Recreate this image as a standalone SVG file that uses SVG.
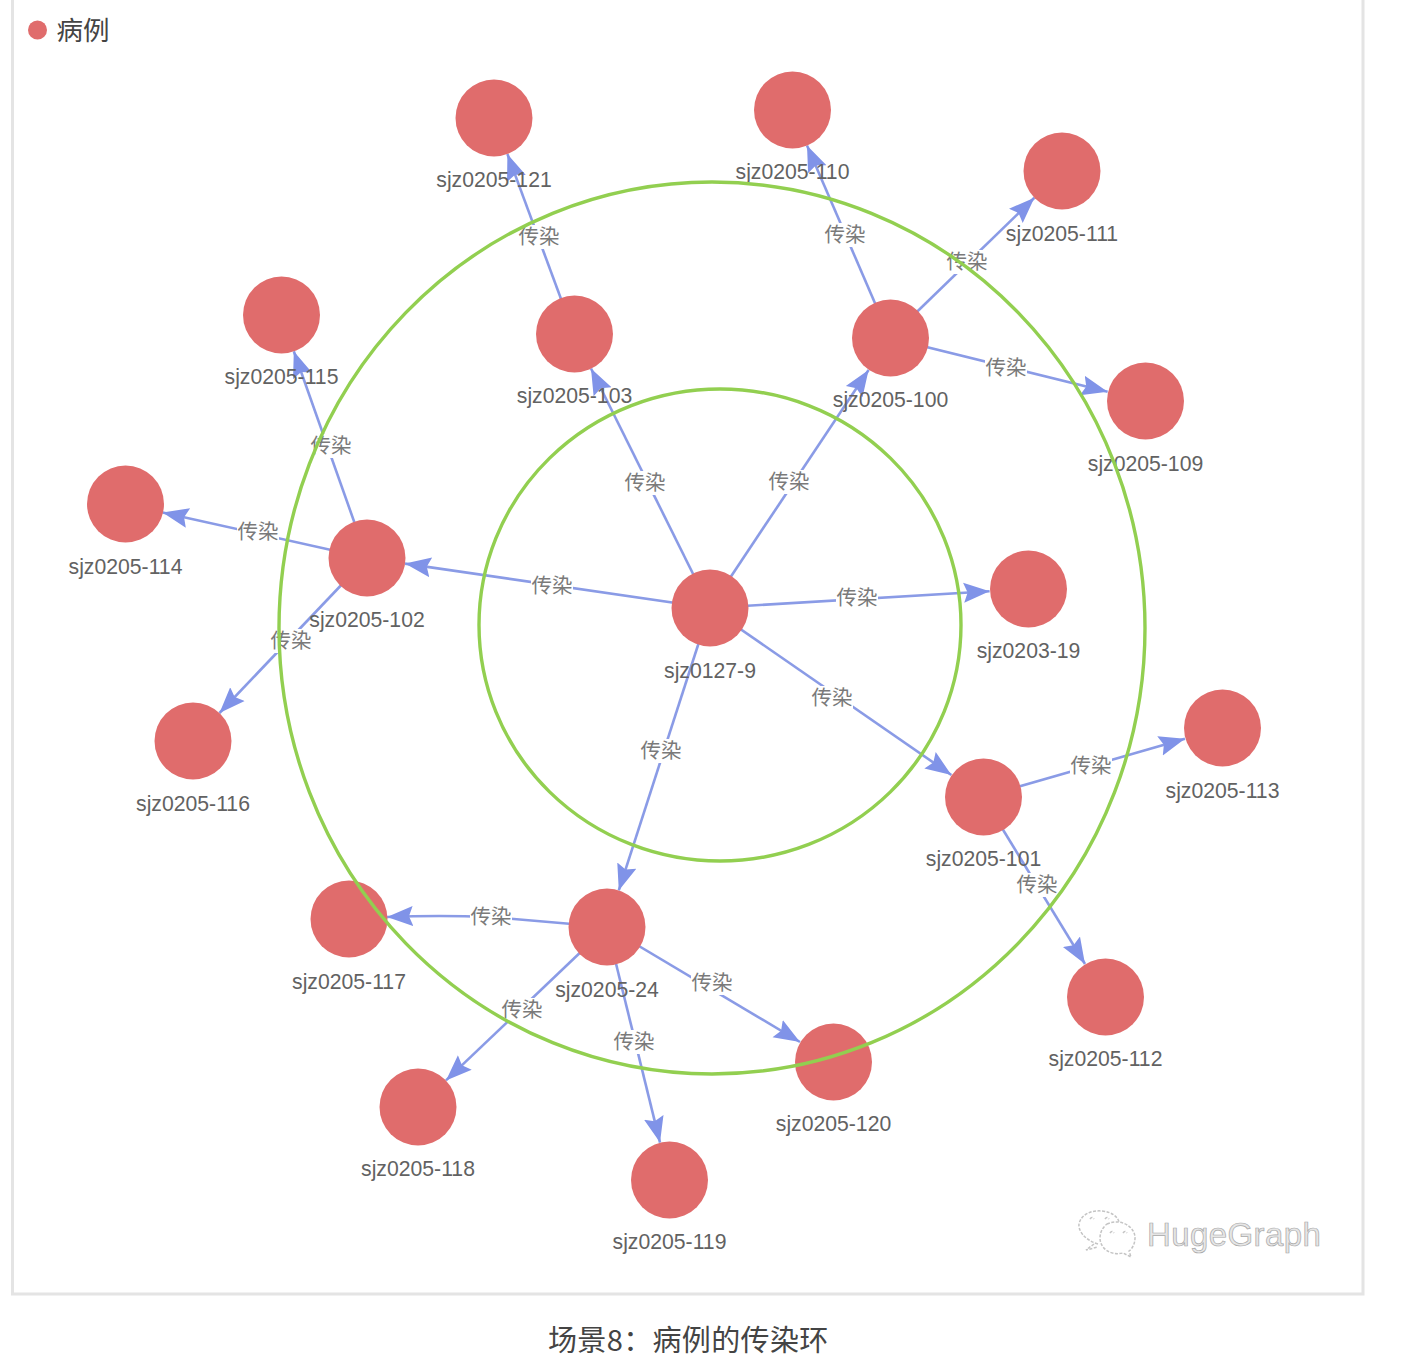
<svg xmlns="http://www.w3.org/2000/svg" width="1422" height="1364" viewBox="0 0 1422 1364">
<style>
.n{fill:#e06c6c}
.nl{font:21.2px "Liberation Sans",Arial,sans-serif;fill:#626262;text-anchor:middle}
.e{fill:none;stroke:#8a9be6;stroke-width:2.6;marker-end:url(#a)}
.el{font:20.500px "Noto Sans CJK SC",sans-serif;fill:#7a7a7a;text-anchor:middle}
.elb{fill:#fff}
.r{fill:none;stroke:#92cf50;stroke-width:3.400}
.wm{fill:none;stroke:#c4c4c4;stroke-width:1.500;stroke-dasharray:3 1.5}
</style>
<defs>
<marker id="a" markerUnits="userSpaceOnUse" markerWidth="30" markerHeight="24" refX="26" refY="11" orient="auto">
<path d="M0 1 L26 11 L0 21 L4 11 Z" fill="#8093e8"/>
</marker>
</defs>
<rect width="1422" height="1364" fill="#fff"/>
<path d="M12.500 -5 V1294 H1363 V-5" fill="none" stroke="#e4e4e4" stroke-width="3"/>
<g id="legend">
<circle class="n" cx="37.500" cy="30" r="9.500"/>
<text x="56.500" y="40" style="font:26.500px 'Noto Sans CJK SC',sans-serif;fill:#444">病例</text>
</g>
<g id="connectors">
<path class="e" d="M710 608L989.600 591.300"/>
<path class="e" d="M710 608L868.600 370"/>
<path class="e" d="M710 608L591 368.500"/>
<path class="e" d="M710 608L405 563.600"/>
<path class="e" d="M710 608L951.400 775"/>
<path class="e" d="M710 608L618.800 890.400"/>
<path class="e" d="M574 334L507.400 154"/>
<path class="e" d="M890 338L807 145.400"/>
<path class="e" d="M890 338L1034.400 197.800"/>
<path class="e" d="M890 338L1107.600 391.800"/>
<path class="e" d="M367 558L293.800 351.300"/>
<path class="e" d="M367 558L162.600 512.400"/>
<path class="e" d="M367 558L219.500 713"/>
<path class="e" d="M983 797L1185 738.700"/>
<path class="e" d="M983 797L1085 964"/>
<path class="e" d="M607 927L490 917Q440 915 387 917"/>
<path class="e" d="M607 927L446 1080.400"/>
<path class="e" d="M607 927L660 1142.600"/>
<path class="e" d="M607 927L800 1042"/>
<g id="edge-labels">
<rect class="elb" x="531" y="574" width="42" height="24"/><text class="el" x="552" y="593">传染</text>
<rect class="elb" x="836" y="586" width="42" height="24"/><text class="el" x="857" y="605">传染</text>
<rect class="elb" x="624" y="471" width="42" height="24"/><text class="el" x="645" y="490">传染</text>
<rect class="elb" x="768" y="470" width="42" height="24"/><text class="el" x="789" y="489">传染</text>
<rect class="elb" x="811" y="686" width="42" height="24"/><text class="el" x="832" y="705">传染</text>
<rect class="elb" x="640" y="739" width="42" height="24"/><text class="el" x="661" y="758">传染</text>
<rect class="elb" x="518" y="225" width="42" height="24"/><text class="el" x="539" y="244">传染</text>
<rect class="elb" x="824" y="223" width="42" height="24"/><text class="el" x="845" y="242">传染</text>
<rect class="elb" x="946" y="250" width="42" height="24"/><text class="el" x="967" y="269">传染</text>
<rect class="elb" x="985" y="356" width="42" height="24"/><text class="el" x="1006" y="375">传染</text>
<rect class="elb" x="310" y="434" width="42" height="24"/><text class="el" x="331" y="453">传染</text>
<rect class="elb" x="237" y="520" width="42" height="24"/><text class="el" x="258" y="539">传染</text>
<rect class="elb" x="270" y="629" width="42" height="24"/><text class="el" x="291" y="648">传染</text>
<rect class="elb" x="1070" y="754" width="42" height="24"/><text class="el" x="1091" y="773">传染</text>
<rect class="elb" x="1016" y="873" width="42" height="24"/><text class="el" x="1037" y="892">传染</text>
<rect class="elb" x="470" y="905" width="42" height="24"/><text class="el" x="491" y="924">传染</text>
<rect class="elb" x="501" y="998" width="42" height="24"/><text class="el" x="522" y="1017">传染</text>
<rect class="elb" x="613" y="1030" width="42" height="24"/><text class="el" x="634" y="1049">传染</text>
<rect class="elb" x="691" y="971" width="42" height="24"/><text class="el" x="712" y="990">传染</text>
</g>
</g>
<g id="n-sjz0127-9"><circle class="n" cx="710" cy="608" r="38.500"/><text class="nl" x="710" y="678">sjz0127-9</text></g>
<g id="n-sjz0203-19"><circle class="n" cx="1028.500" cy="589" r="38.500"/><text class="nl" x="1028.500" y="658">sjz0203-19</text></g>
<g id="n-sjz0205-100"><circle class="n" cx="890.500" cy="338" r="38.500"/><text class="nl" x="890.500" y="407">sjz0205-100</text></g>
<g id="n-sjz0205-103"><circle class="n" cx="574.500" cy="334" r="38.500"/><text class="nl" x="574.500" y="403">sjz0205-103</text></g>
<g id="n-sjz0205-102"><circle class="n" cx="367" cy="558" r="38.500"/><text class="nl" x="367" y="627">sjz0205-102</text></g>
<g id="n-sjz0205-101"><circle class="n" cx="983.500" cy="797" r="38.500"/><text class="nl" x="983.500" y="866">sjz0205-101</text></g>
<g id="n-sjz0205-24"><circle class="n" cx="607" cy="927" r="38.500"/><text class="nl" x="607" y="997">sjz0205-24</text></g>
<g id="n-sjz0205-121"><circle class="n" cx="494" cy="118" r="38.500"/><text class="nl" x="494" y="187">sjz0205-121</text></g>
<g id="n-sjz0205-110"><circle class="n" cx="792.500" cy="110" r="38.500"/><text class="nl" x="792.500" y="179">sjz0205-110</text></g>
<g id="n-sjz0205-111"><circle class="n" cx="1062" cy="171" r="38.500"/><text class="nl" x="1062" y="241">sjz0205-111</text></g>
<g id="n-sjz0205-109"><circle class="n" cx="1145.500" cy="401" r="38.500"/><text class="nl" x="1145.500" y="471">sjz0205-109</text></g>
<g id="n-sjz0205-115"><circle class="n" cx="281.500" cy="315" r="38.500"/><text class="nl" x="281.500" y="384">sjz0205-115</text></g>
<g id="n-sjz0205-114"><circle class="n" cx="125.500" cy="504" r="38.500"/><text class="nl" x="125.500" y="574">sjz0205-114</text></g>
<g id="n-sjz0205-116"><circle class="n" cx="193" cy="741" r="38.500"/><text class="nl" x="193" y="811">sjz0205-116</text></g>
<g id="n-sjz0205-113"><circle class="n" cx="1222.500" cy="728" r="38.500"/><text class="nl" x="1222.500" y="798">sjz0205-113</text></g>
<g id="n-sjz0205-112"><circle class="n" cx="1105.500" cy="997" r="38.500"/><text class="nl" x="1105.500" y="1066">sjz0205-112</text></g>
<g id="n-sjz0205-117"><circle class="n" cx="349" cy="919" r="38.500"/><text class="nl" x="349" y="989">sjz0205-117</text></g>
<g id="n-sjz0205-118"><circle class="n" cx="418" cy="1107" r="38.500"/><text class="nl" x="418" y="1176">sjz0205-118</text></g>
<g id="n-sjz0205-119"><circle class="n" cx="669.500" cy="1180" r="38.500"/><text class="nl" x="669.500" y="1249">sjz0205-119</text></g>
<g id="n-sjz0205-120"><circle class="n" cx="833.500" cy="1062" r="38.500"/><text class="nl" x="833.500" y="1131">sjz0205-120</text></g>
<g id="rings">
<ellipse class="r" cx="720" cy="625" rx="241" ry="236"/>
<ellipse class="r" cx="712" cy="628" rx="433" ry="446"/>
</g>
<g id="watermark">
<path class="wm" d="M1098 1244C1084 1240 1078 1230 1079 1224C1081 1214 1092 1210 1102 1211C1112 1212 1118 1217 1119 1222M1094 1244L1086 1250L1098 1247M1090 1219Q1092 1216 1094 1219M1105 1219Q1107 1216 1109 1219"/>
<path class="wm" d="M1107 1224C1120 1218 1135 1226 1135 1238C1135 1244 1132 1249 1129 1251L1131 1257L1123 1253C1110 1256 1100 1248 1100 1238C1100 1232 1103 1227 1107 1224ZM1110 1233Q1112 1230 1114 1233M1123 1233Q1125 1230 1127 1233"/>
<text x="1147" y="1246" style="font:33px 'Liberation Sans',sans-serif;letter-spacing:.4px;fill:#e6e6e6;stroke:#a8a8a8;stroke-width:.7">HugeGraph</text>
</g>
<text id="caption" x="548" y="1351" style="font:29px 'Noto Sans CJK SC',sans-serif;fill:#444;letter-spacing:.35px">场景8：病例的传染环</text>
</svg>
